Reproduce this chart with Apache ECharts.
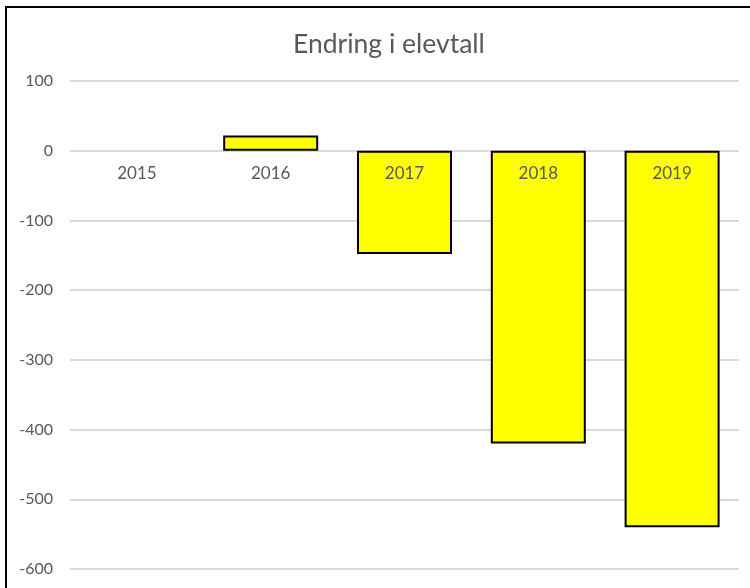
<!DOCTYPE html>
<html>
<head>
<meta charset="utf-8">
<script src="https://cdn.jsdelivr.net/npm/echarts@6/dist/echarts.min.js"></script>
<style>
html,body{margin:0;padding:0;background:#fff;}
#chart{width:750px;height:588px;}
</style>
</head>
<body>
<div id="chart"></div>
<script>
var titleText = 'Endring i elevtall';
var categories = ['2015', '2016', '2017', '2018', '2019'];
var values = [0, 22, -148, -420, -540];
var yMin = -600, yMax = 100, yStep = 100;

var seriesData = values.map(function (v) {
  return v === 0 ? {value: v, itemStyle: {borderWidth: 0}} : v;
});

var chart = echarts.init(document.getElementById('chart'), null, {renderer: 'canvas'});
chart.setOption({
  animation: false,
  backgroundColor: '#fff',
  title: {
    text: titleText,
    left: 288,
    top: 26,
    textStyle: {fontFamily: 'Lato', fontSize: 26.5, fontWeight: 'normal', color: '#595959'}
  },
  graphic: [{
    type: 'rect',
    shape: {x: 6, y: 7, width: 800, height: 700},
    style: {fill: null, stroke: '#000', lineWidth: 2},
    z: 100
  }],
  grid: {left: 70, right: 11, top: 81, bottom: 19, containLabel: false, outerBoundsMode: 'none'},
  xAxis: {
    type: 'category',
    data: categories,
    z: 10,
    axisLine: {show: false, onZero: false},
    axisTick: {show: false},
    splitLine: {show: false},
    axisLabel: {margin: 14, fontFamily: 'Lato', fontSize: 17, color: '#595959'}
  },
  yAxis: {
    type: 'value',
    min: yMin, max: yMax, interval: yStep,
    axisLine: {show: false},
    axisTick: {show: false},
    splitLine: {show: true, lineStyle: {color: '#d9d9d9', width: 2}},
    axisLabel: {margin: 17, fontFamily: 'Lato', fontSize: 16, color: '#595959'}
  },
  series: [{
    type: 'bar',
    data: seriesData,
    barWidth: '71%',
    itemStyle: {color: '#ffff00', borderColor: '#000', borderWidth: 2}
  }]
});
// place the category axis on the zero line, using the value axis scale
var yZero = chart.convertToPixel({yAxisIndex: 0}, 0);
var yBottom = chart.convertToPixel({yAxisIndex: 0}, yMin);
chart.setOption({xAxis: {offset: yZero - yBottom}});
</script>
</body>
</html>
